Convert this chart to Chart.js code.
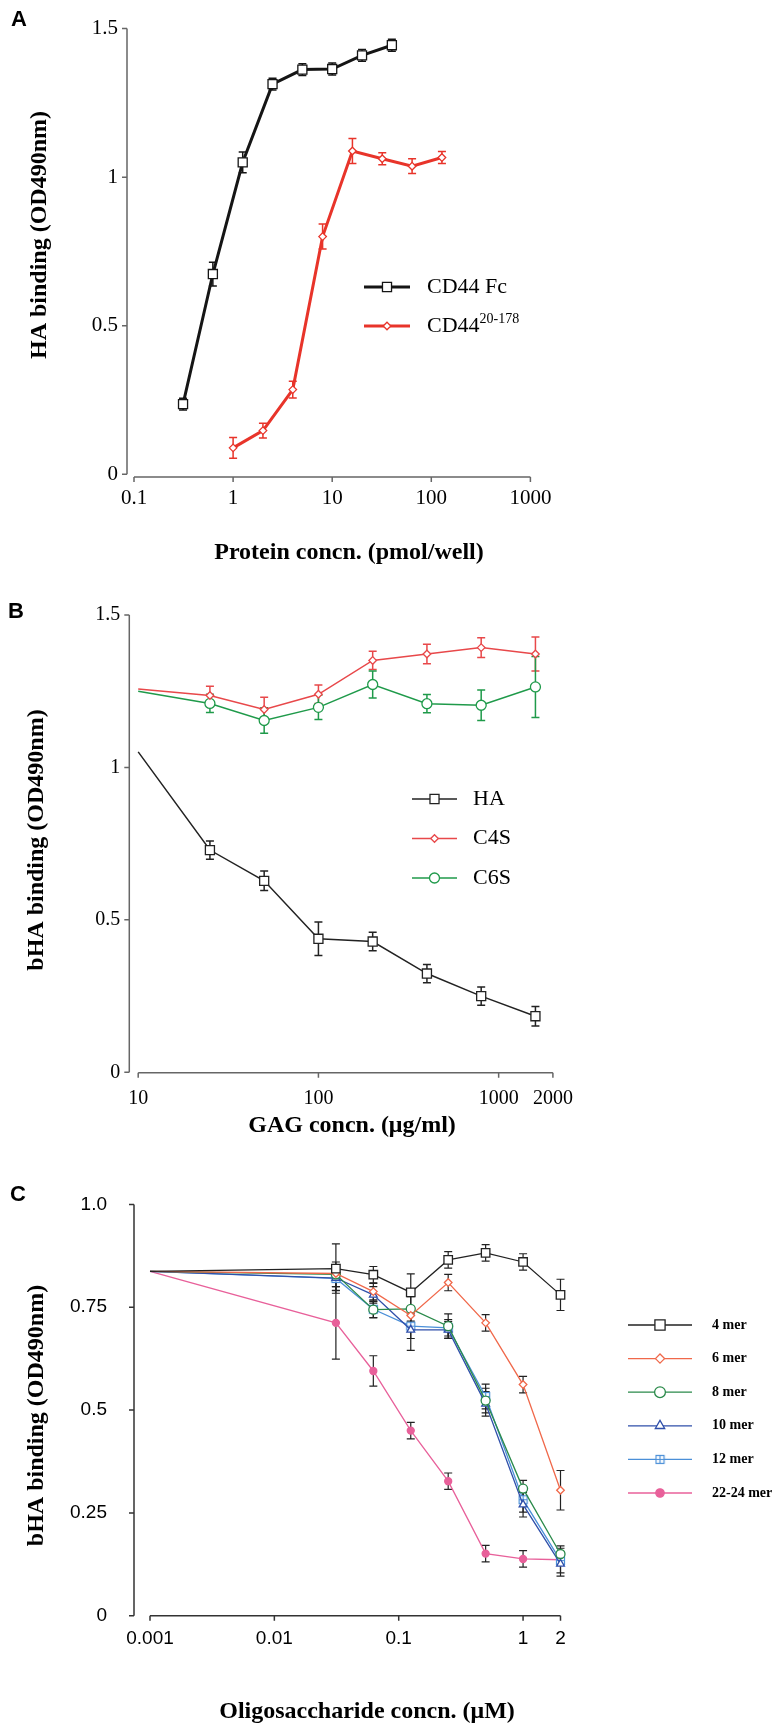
<!DOCTYPE html>
<html>
<head>
<meta charset="utf-8">
<script src="https://cdn.jsdelivr.net/npm/chart.js@4.4.0/dist/chart.umd.min.js"></script>
<style>
    html, body { margin: 0; padding: 0; background: #fff; }
    #page { position: relative; width: 774px; height: 1726px; overflow: hidden; }
    canvas { position: absolute; left: 0; }
</style>
</head>
<body>
<div id="page">
    <canvas id="panelA" width="774" height="570" style="top:0px"></canvas>
    <canvas id="panelB" width="774" height="580" style="top:570px"></canvas>
    <canvas id="panelC" width="774" height="576" style="top:1150px"></canvas>
</div>
<script>
const SERIF = '"Liberation Serif", "Times New Roman", serif';
const SANS = '"Liberation Sans", Arial, sans-serif';

// Panel A - protein titration
const fcConc = [0.3125, 0.625, 1.25, 2.5, 5, 10, 20, 40];
const fcOD = [0.236, 0.674, 1.05, 1.313, 1.362, 1.364, 1.41, 1.444];
const fcErr = [0.02, 0.04, 0.035, 0.02, 0.02, 0.02, 0.02, 0.02];
const shortConc = [1, 2, 4, 8, 16, 32, 64, 128];
const shortOD = [0.089, 0.147, 0.285, 0.80, 1.088, 1.062, 1.037, 1.066];
const shortErr = [0.035, 0.025, 0.028, 0.042, 0.042, 0.02, 0.025, 0.02];
const aXTicks = [0.1, 1, 10, 100, 1000];
const aYTicks = [0, 0.5, 1, 1.5];

// Panel B - GAG competition
const gagConc = [10, 25, 50, 100, 200, 400, 800, 1600];
const haOD = [1.051, 0.729, 0.628, 0.438, 0.429, 0.324, 0.25, 0.184];
const haErr = [0, 0.03, 0.032, 0.055, 0.03, 0.03, 0.03, 0.032];
const c4sOD = [1.257, 1.236, 1.19, 1.24, 1.351, 1.372, 1.393, 1.372];
const c4sErr = [0, 0.03, 0.04, 0.03, 0.03, 0.032, 0.032, 0.056];
const c6sOD = [1.25, 1.21, 1.154, 1.197, 1.272, 1.209, 1.204, 1.264];
const c6sErr = [0, 0.03, 0.042, 0.04, 0.044, 0.03, 0.05, 0.1];
const bXTicks = [10, 100, 1000, 2000];
const bYTicks = [0, 0.5, 1, 1.5];

// Panel C - oligosaccharides
const oligoConc = [0.001, 0.03125, 0.0625, 0.125, 0.25, 0.5, 1, 2];
const mer4 = [0.837, 0.844, 0.829, 0.786, 0.865, 0.882, 0.86, 0.78];
const mer4Err = [0, 0.06, 0.02, 0.045, 0.02, 0.02, 0.02, 0.038];
const mer6 = [0.837, 0.832, 0.788, 0.73, 0.81, 0.712, 0.562, 0.305];
const mer6Err = [0, 0.02, 0.02, 0.02, 0.02, 0.02, 0.02, 0.048];
const mer8 = [0.837, 0.83, 0.744, 0.746, 0.704, 0.523, 0.309, 0.15];
const mer8Err = [0, 0.03, 0.02, 0.03, 0.03, 0.03, 0.02, 0.02];
const mer10 = [0.837, 0.821, 0.78, 0.695, 0.695, 0.515, 0.27, 0.126];
const mer10Err = [0, 0.03, 0.02, 0.05, 0.02, 0.03, 0.03, 0.03];
const mer12 = [0.837, 0.82, 0.745, 0.704, 0.70, 0.533, 0.282, 0.134];
const mer12Err = [0, 0.03, 0.02, 0.03, 0.02, 0.03, 0.03, 0.03];
const mer22 = [0.837, 0.712, 0.595, 0.45, 0.327, 0.151, 0.138, 0.136];
const mer22Err = [0, 0.088, 0.037, 0.02, 0.02, 0.02, 0.02, 0];
const cXTicks = [0.001, 0.01, 0.1, 1, 2];
const cYTicks = [0, 0.25, 0.5, 0.75, 1];
const cYLabels = ['0', '0.25', '0.5', '0.75', '1.0'];

function pairs(xs, ys) {
    return xs.map((x, i) => ({ x: x, y: ys[i] }));
}

// square with a plus inside, used for the 12 mer series
function boxCross(color) {
    const c = document.createElement('canvas');
    c.width = 11; c.height = 11;
    const g = c.getContext('2d');
    g.fillStyle = '#fff';
    g.fillRect(1, 1, 9, 9);
    g.strokeStyle = color;
    g.lineWidth = 1.2;
    g.strokeRect(1.5, 1.5, 8, 8);
    g.beginPath();
    g.moveTo(5.5, 1.5); g.lineTo(5.5, 9.5);
    g.moveTo(1.5, 5.5); g.lineTo(9.5, 5.5);
    g.stroke();
    return c;
}

const errorBars = {
    id: 'errorBars',
    beforeDatasetsDraw(chart, args, o) {
        const ctx = chart.ctx;
        const yScale = chart.scales.y;
        chart.data.datasets.forEach((ds, i) => {
            if (!ds.errors) return;
            const meta = chart.getDatasetMeta(i);
            ctx.save();
            ctx.strokeStyle = o.color || ds.borderColor;
            ctx.lineWidth = o.width;
            meta.data.forEach((pt, j) => {
                const e = ds.errors[j];
                if (!e) return;
                const v = ds.data[j].y;
                const hi = yScale.getPixelForValue(v + e);
                const lo = yScale.getPixelForValue(v - e);
                ctx.beginPath();
                ctx.moveTo(pt.x, hi); ctx.lineTo(pt.x, lo);
                ctx.moveTo(pt.x - o.cap, hi); ctx.lineTo(pt.x + o.cap, hi);
                ctx.moveTo(pt.x - o.cap, lo); ctx.lineTo(pt.x + o.cap, lo);
                ctx.stroke();
            });
            ctx.restore();
        });
    }
};

// axes drawn detached from the plot area, like the original figure
const offsetAxes = {
    id: 'offsetAxes',
    afterDraw(chart, args, o) {
        const { ctx, chartArea } = chart;
        const x = chart.scales.x, y = chart.scales.y;
        const ax = chartArea.left - o.yGap;
        const ay = chartArea.bottom + o.xGap;
        ctx.save();
        ctx.strokeStyle = o.color;
        ctx.lineWidth = o.width;
        ctx.beginPath();
        ctx.moveTo(ax, y.getPixelForValue(y.max));
        ctx.lineTo(ax, y.getPixelForValue(y.min));
        y.ticks.forEach(t => {
            const p = y.getPixelForValue(t.value);
            ctx.moveTo(ax - o.tick, p); ctx.lineTo(ax, p);
        });
        ctx.moveTo(x.getPixelForValue(x.min), ay);
        ctx.lineTo(x.getPixelForValue(x.max), ay);
        x.ticks.forEach(t => {
            const p = x.getPixelForValue(t.value);
            ctx.moveTo(p, ay); ctx.lineTo(p, ay + o.tick);
        });
        ctx.stroke();
        ctx.restore();
    }
};

const decor = {
    id: 'decor',
    afterDraw(chart, args, o) {
        const ctx = chart.ctx;
        ctx.save();
        ctx.fillStyle = '#000';
        ctx.textBaseline = 'middle';
        ctx.textAlign = 'center';
        ctx.font = 'bold 22px ' + SANS;
        ctx.fillText(o.letter, o.letterAt[0], o.letterAt[1]);
        ctx.font = 'bold 24px ' + SERIF;
        ctx.fillText(o.xTitle, o.xTitleAt[0], o.xTitleAt[1]);
        ctx.save();
        ctx.translate(o.yTitleAt[0], o.yTitleAt[1]);
        ctx.rotate(-Math.PI / 2);
        ctx.fillText(o.yTitle, 0, 0);
        ctx.restore();

        const L = o.legend;
        chart.data.datasets.forEach((ds, i) => {
            const ly = L.y0 + i * L.dy;
            ctx.strokeStyle = ds.borderColor;
            ctx.lineWidth = ds.borderWidth;
            ctx.beginPath();
            ctx.moveTo(L.x1, ly); ctx.lineTo(L.x2, ly);
            ctx.stroke();
            const r = Array.isArray(ds.pointRadius) ? ds.pointRadius[ds.pointRadius.length - 1] : ds.pointRadius;
            ctx.fillStyle = ds.pointBackgroundColor;
            ctx.strokeStyle = ds.pointBorderColor;
            ctx.lineWidth = ds.pointBorderWidth;
            Chart.helpers.drawPoint(ctx, { pointStyle: ds.pointStyle, radius: r * (L.markScale || 1), rotation: 0, borderWidth: ds.pointBorderWidth }, (L.x1 + L.x2) / 2, ly);
            ctx.fillStyle = '#000';
            ctx.textAlign = 'left';
            ctx.font = L.font;
            ctx.fillText(ds.label, L.tx, ly);
            if (ds.labelSup) {
                const w = ctx.measureText(ds.label).width;
                ctx.font = L.supFont;
                ctx.fillText(ds.labelSup, L.tx + w, ly - 7);
            }
        });
        ctx.restore();
    }
};

function series(label, xs, ys, errs, color, style, radius, lineWidth, filled) {
    return {
        label: label,
        data: pairs(xs, ys),
        errors: errs,
        borderColor: color,
        borderWidth: lineWidth,
        pointStyle: style,
        pointRadius: radius,
        pointBorderColor: color,
        pointBackgroundColor: filled ? color : '#fff',
        pointBorderWidth: 1.3,
        tension: 0,
        clip: false
    };
}

function makePanel(id, p) {
    new Chart(document.getElementById(id), {
        type: 'line',
        data: { datasets: p.datasets },
        options: {
            responsive: false,
            animation: false,
            devicePixelRatio: 1,
            layout: { padding: p.padding },
            plugins: {
                legend: { display: false },
                tooltip: { enabled: false },
                errorBars: p.err,
                offsetAxes: p.axes,
                decor: p.decor
            },
            scales: {
                x: {
                    type: 'logarithmic',
                    min: p.xTicks[0],
                    max: p.xTicks[p.xTicks.length - 1],
                    afterBuildTicks: s => { s.ticks = p.xTicks.map(v => ({ value: v })); },
                    afterFit: s => { s.height = p.xHeight; },
                    grid: { display: false, drawTicks: false },
                    border: { display: false },
                    ticks: {
                        autoSkip: false, maxRotation: 0, color: '#000',
                        padding: p.xPad,
                        font: p.tickFont,
                        callback: v => String(v)
                    }
                },
                y: {
                    type: 'linear',
                    min: p.yTicks[0],
                    max: p.yTicks[p.yTicks.length - 1],
                    afterBuildTicks: s => { s.ticks = p.yTicks.map(v => ({ value: v })); },
                    afterFit: s => { s.width = p.yWidth; },
                    grid: { display: false, drawTicks: false },
                    border: { display: false },
                    ticks: {
                        autoSkip: false, color: '#000',
                        padding: p.yPad,
                        font: p.tickFont,
                        callback: (v, i) => p.yLabels ? p.yLabels[i] : String(v)
                    }
                }
            }
        },
        plugins: [errorBars, offsetAxes, decor]
    });
}

const firstHidden = r => [0, r, r, r, r, r, r, r];

makePanel('panelA', {
    datasets: [
        series('CD44 Fc', fcConc, fcOD, fcErr, '#151515', 'rect', 6.4, 3, false),
        Object.assign(series('CD44', shortConc, shortOD, shortErr, '#e8342a', 'rectRot', 3.8, 3, false), { labelSup: '20-178' })
    ],
    xTicks: aXTicks, yTicks: aYTicks,
    padding: { left: 0, top: 15, right: 243.6, bottom: 0 },
    xHeight: 95.7, yWidth: 134, xPad: 12, yPad: 16,
    tickFont: { family: SERIF, size: 21 },
    err: { width: 1.5, cap: 4 },
    axes: { yGap: 7, xGap: 2.7, color: '#666', width: 1.5, tick: 5 },
    decor: {
        letter: 'A', letterAt: [19, 20],
        xTitle: 'Protein concn. (pmol/well)', xTitleAt: [349, 553],
        yTitle: 'HA binding (OD490nm)', yTitleAt: [40, 235],
        legend: { x1: 364, x2: 410, tx: 427, y0: 287, dy: 39, font: '22px ' + SERIF, supFont: '14px ' + SERIF }
    }
});

makePanel('panelB', {
    datasets: [
        series('HA', gagConc, haOD, haErr, '#222', 'rect', firstHidden(6.4), 1.5, false),
        series('C4S', gagConc, c4sOD, c4sErr, '#e8484a', 'rectRot', firstHidden(3.8), 1.5, false),
        series('C6S', gagConc, c6sOD, c6sErr, '#1f9a4a', 'circle', firstHidden(5), 1.5, false)
    ],
    xTicks: bXTicks, yTicks: bYTicks,
    padding: { left: 0, top: 45, right: 221.1, bottom: 0 },
    xHeight: 77.7, yWidth: 138.2, xPad: 14, yPad: 18,
    tickFont: { family: SERIF, size: 20 },
    err: { width: 1.5, cap: 4 },
    axes: { yGap: 8.9, xGap: 0.4, color: '#666', width: 1.5, tick: 5 },
    decor: {
        letter: 'B', letterAt: [16, 42],
        xTitle: 'GAG concn. (\u03bcg/ml)', xTitleAt: [352, 556],
        yTitle: 'bHA binding (OD490nm)', yTitleAt: [37, 270],
        legend: { x1: 412, x2: 457, tx: 473, y0: 229, dy: 39.5, font: '22px ' + SERIF, supFont: '14px ' + SERIF }
    }
});

makePanel('panelC', {
    datasets: [
        series('4 mer', oligoConc, mer4, mer4Err, '#222', 'rect', firstHidden(6), 1.3, false),
        series('6 mer', oligoConc, mer6, mer6Err, '#f0684a', 'rectRot', firstHidden(3.8), 1.3, false),
        series('8 mer', oligoConc, mer8, mer8Err, '#2a8a4a', 'circle', firstHidden(4.5), 1.3, false),
        series('10 mer', oligoConc, mer10, mer10Err, '#2f4faa', 'triangle', firstHidden(4.5), 1.3, false),
        series('12 mer', oligoConc, mer12, mer12Err, '#4a8fd8', boxCross('#4a8fd8'), firstHidden(5), 1.3, false),
        series('22-24 mer', oligoConc, mer22, mer22Err, '#e8609a', 'circle', firstHidden(3.5), 1.3, true)
    ],
    xTicks: cXTicks, yTicks: cYTicks, yLabels: cYLabels,
    padding: { left: 0, top: 47.7, right: 213.5, bottom: 0 },
    xHeight: 110.3, yWidth: 150, xPad: 12, yPad: 43,
    tickFont: { family: SANS, size: 19 },
    err: { color: '#222', width: 1.2, cap: 4 },
    axes: { yGap: 16, xGap: 0, color: '#333', width: 1.5, tick: 5 },
    decor: {
        letter: 'C', letterAt: [18, 44.5],
        xTitle: 'Oligosaccharide concn. (\u03bcM)', xTitleAt: [367, 562],
        yTitle: 'bHA binding (OD490nm)', yTitleAt: [37, 265.5],
        legend: { x1: 628, x2: 692, tx: 712, y0: 175, dy: 33.6, font: 'bold 14px ' + SERIF, supFont: '10px ' + SERIF, markScale: 1.2 }
    }
});
</script>
</body>
</html>
